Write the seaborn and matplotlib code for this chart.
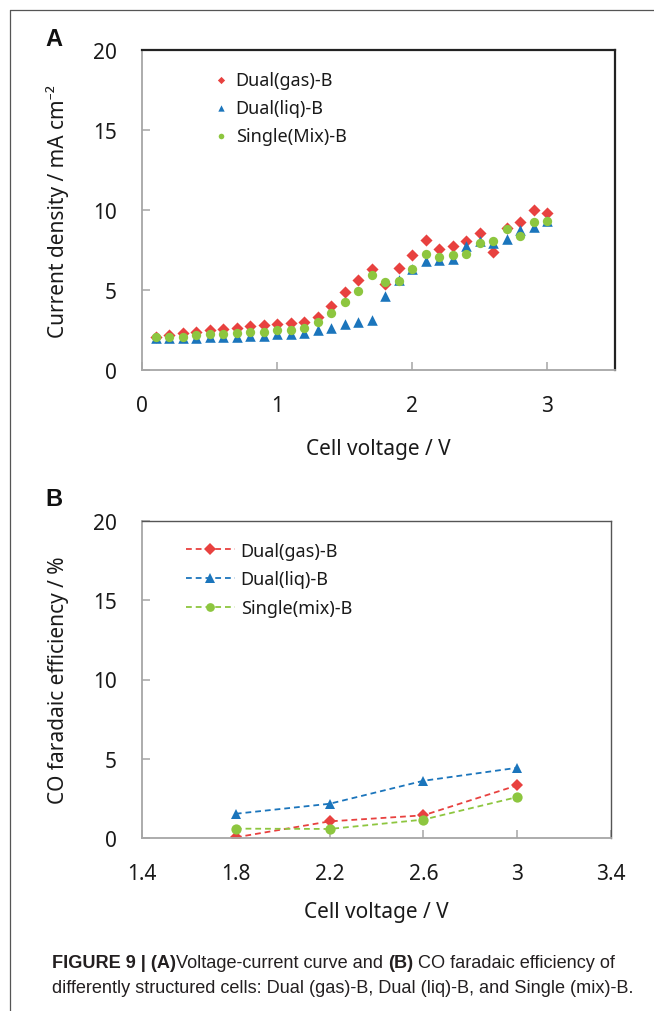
import numpy as np
import pandas as pd
import matplotlib
matplotlib.use("Agg")
import matplotlib.pyplot as plt
import seaborn as sns
from matplotlib.lines import Line2D
from matplotlib import font_manager as fm

# ---------------- data ----------------
voltage_a = [0.1, 0.2, 0.3, 0.4, 0.5, 0.6, 0.7, 0.8, 0.9, 1.0,
             1.1, 1.2, 1.3, 1.4, 1.5, 1.6, 1.7, 1.8, 1.9, 2.0,
             2.1, 2.2, 2.3, 2.4, 2.5, 2.6, 2.7, 2.8, 2.9, 3.0]
dual_gas_a = [2.05, 2.19, 2.34, 2.40, 2.47, 2.57, 2.61, 2.74, 2.80, 2.86,
              2.93, 2.99, 3.30, 4.01, 4.85, 5.60, 6.31, 5.39, 6.37, 7.21,
              8.11, 7.59, 7.73, 8.09, 8.57, 7.36, 8.88, 9.22, 9.97, 9.82]
dual_liq_a = [2.03, 1.99, 1.99, 2.01, 2.05, 2.07, 2.09, 2.13, 2.15, 2.24,
              2.26, 2.34, 2.47, 2.61, 2.86, 2.99, 3.13, 4.60, 5.64, 6.33,
              6.79, 6.90, 6.96, 7.77, 8.09, 7.94, 8.21, 8.74, 8.94, 9.34]
single_mix_a = [2.05, 2.09, 2.09, 2.19, 2.24, 2.26, 2.30, 2.36, 2.40, 2.53,
                2.53, 2.63, 2.99, 3.55, 4.26, 4.95, 5.96, 5.48, 5.58, 6.33,
                7.25, 7.04, 7.21, 7.25, 7.94, 8.09, 8.80, 8.40, 9.26, 9.34]
labels_a = ["Dual(gas)-B", "Dual(liq)-B", "Single(Mix)-B"]

voltage_b = [1.8, 2.2, 2.6, 3.0]
dual_gas_b = [0.04, 1.05, 1.43, 3.32]
dual_liq_b = [1.53, 2.16, 3.61, 4.43]
single_mix_b = [0.59, 0.57, 1.16, 2.58]
labels_b = ["Dual(gas)-B", "Dual(liq)-B", "Single(mix)-B"]

xticks_a = [0, 1, 2, 3]
yticks = [0, 5, 10, 15, 20]
xticks_b = [1.4, 1.8, 2.2, 2.6, 3.0, 3.4]
xticklabels_b = ["1.4", "1.8", "2.2", "2.6", "3", "3.4"]

# ---------------- style ----------------
RED, BLUE, GREEN = "#E8413F", "#1B75BC", "#8DC63F"
SPINE_GRAY = "#A6A6A6"
TEXT = "#1A1A1A"

sns.set_theme(style="white")
plt.rcParams["font.family"] = ["Noto Sans", "DejaVu Sans"]

W, H = 654, 1012
fig = plt.figure(figsize=(W / 100, H / 100), dpi=100)
fig.patch.set_facecolor("white")

axA = fig.add_axes([142 / W, 1 - 371 / H, 473 / W, 320 / H])
axB = fig.add_axes([142 / W, 1 - 839 / H, 469 / W, 317 / H])

# ---------------- panel A ----------------
sns.scatterplot(x=voltage_a, y=dual_gas_a, color=RED, marker="D", s=38,
                linewidth=0, label=labels_a[0], ax=axA, zorder=3)
sns.scatterplot(x=voltage_a, y=dual_liq_a, color=BLUE, marker="^", s=58,
                linewidth=0, label=labels_a[1], ax=axA, zorder=3)
sns.scatterplot(x=voltage_a, y=single_mix_a, color=GREEN, marker="o", s=45,
                linewidth=0, label=labels_a[2], ax=axA, zorder=4)

axA.set_xlim(0, 3.5)
axA.set_ylim(0, 20)
axA.set_xticks(xticks_a)
axA.set_xticklabels([str(t) for t in xticks_a])
axA.set_yticks(yticks)
axA.set_yticklabels([str(t) for t in yticks])
axA.set_xlabel("Cell voltage / V", fontsize=15, color=TEXT)
axA.set_ylabel("Current density / mA cm\u207b\u00b2", fontsize=15, color=TEXT)
axA.xaxis.set_label_coords(0.5, -(439 - 371) / 320)
axA.yaxis.set_label_coords((69 - 142) / 473, 0.5)

legA = axA.legend(loc="upper left", bbox_to_anchor=(0.152, 0.935),
                  frameon=False, fontsize=13, handlelength=0.8,
                  handletextpad=0.4, labelspacing=0.55, borderaxespad=0,
                  borderpad=0, markerscale=0.6)
for t in legA.get_texts():
    t.set_color(TEXT)

# ---------------- panel B ----------------
for yv, col, mk, ms, lab in [(dual_gas_b, RED, "D", 6.6, labels_b[0]),
                             (dual_liq_b, BLUE, "^", 7.8, labels_b[1]),
                             (single_mix_b, GREEN, "o", 7.4, labels_b[2])]:
    sns.lineplot(x=voltage_b, y=yv, color=col, marker=mk, markersize=ms,
                 markeredgewidth=0, linestyle=(0, (3.2, 2.2)), linewidth=1.3,
                 label=lab, ax=axB)

axB.set_xlim(1.4, 3.4)
axB.set_ylim(0, 20)
axB.set_xticks(xticks_b)
axB.set_xticklabels(xticklabels_b)
axB.set_yticks(yticks)
axB.set_yticklabels([str(t) for t in yticks])
axB.set_xlabel("Cell voltage / V", fontsize=15, color=TEXT)
axB.set_ylabel("CO faradaic efficiency / %", fontsize=15, color=TEXT)
axB.xaxis.set_label_coords(0.5, -(902 - 839) / 317)
axB.yaxis.set_label_coords((69 - 142) / 469, 0.5)

legB = axB.legend(loc="upper left", bbox_to_anchor=(0.094, 0.935),
                  frameon=False, fontsize=13, handlelength=2.7,
                  handletextpad=0.32, labelspacing=0.6, borderaxespad=0,
                  borderpad=0, markerscale=0.85)
for t in legB.get_texts():
    t.set_color(TEXT)

# ---------------- axes styling ----------------
for ax, top_col, top_lw in [(axA, "#222222", 1.6), (axB, "#555555", 1.0)]:
    ax.set_facecolor("white")
    ax.grid(False)
    for s in ["left", "bottom"]:
        ax.spines[s].set_color(SPINE_GRAY)
        ax.spines[s].set_linewidth(1.3)
    for s in ["top", "right"]:
        ax.spines[s].set_color(top_col)
        ax.spines[s].set_linewidth(top_lw)
    ax.tick_params(axis="both", which="both", direction="in", length=6,
                   width=1.1, color=SPINE_GRAY, labelsize=15, pad=18,
                   labelcolor=TEXT, top=False, right=False,
                   bottom=True, left=True)

# ---------------- panel letters ----------------
fig.text(45 / W, 1 - 39 / H, "A", fontsize=17, fontweight="bold",
         family=["Liberation Sans", "DejaVu Sans"], ha="left", va="center",
         color="#111111")
fig.text(45 / W, 1 - 500 / H, "B", fontsize=17, fontweight="bold",
         family=["Liberation Sans", "DejaVu Sans"], ha="left", va="center",
         color="#111111")

# ---------------- frame lines ----------------
fig.add_artist(Line2D([9.7 / W, 1.0], [1 - 11 / H, 1 - 11 / H],
                      transform=fig.transFigure, color="#555555", lw=0.9))
fig.add_artist(Line2D([9.7 / W, 9.7 / W], [1 - 11 / H, 0.0],
                      transform=fig.transFigure, color="#555555", lw=0.9))

# ---------------- caption ----------------
names = {f.name for f in fm.fontManager.ttflist}
cap_family = "Liberation Sans Narrow" if "Liberation Sans Narrow" in names else "Liberation Sans"
CAP = "#231F20"
renderer = fig.canvas.get_renderer()
line2 = "differently structured cells: Dual (gas)-B, Dual (liq)-B, and Single (mix)-B."


def text_w(s, weight, size):
    t = fig.text(0, 0, s, fontsize=size, family=cap_family, fontweight=weight)
    w = t.get_window_extent(renderer).width
    t.remove()
    return w


# fit the second caption line to its width in the reference (52 -> 638 px)
cap_size = 10.0 * 586.0 / text_w(line2, "normal", 10.0)
space_w = text_w("x x", "normal", cap_size) - text_w("xx", "normal", cap_size)

line1 = [("FIGURE 9 | (A)", "bold"), ("Voltage-current curve and", "normal"),
         (" ", None), ("(B)", "bold"), (" ", None),
         ("CO faradaic efficiency of", "normal")]
x = 52.0
y1 = 1 - 964 / H
for s, wt in line1:
    if wt is None:
        x += space_w
        continue
    t = fig.text(x / W, y1, s, fontsize=cap_size, family=cap_family,
                 fontweight=wt, ha="left", va="center", color=CAP)
    x += t.get_window_extent(renderer).width

fig.text(52 / W, 1 - 989 / H, line2,
         fontsize=cap_size, family=cap_family, ha="left", va="center", color=CAP)

fig.savefig("out.png", dpi=100, facecolor="white")
